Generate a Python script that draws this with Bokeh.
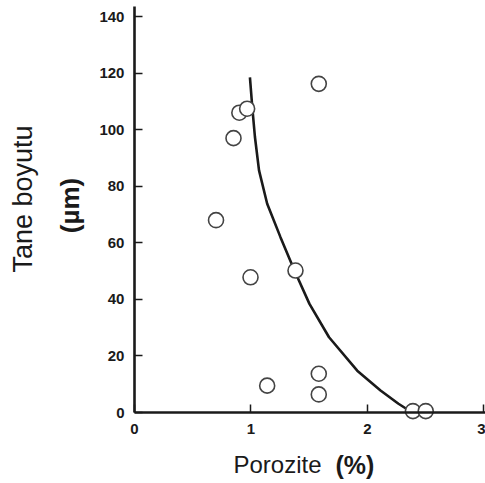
import math
from bokeh.plotting import figure
from bokeh.models import ColumnDataSource, Label
from bokeh.embed import file_html
from bokeh.resources import INLINE

# Measured samples: porosity (%) vs grain size (µm)
porosity = [0.70, 0.85, 0.90, 0.967, 1.582, 0.996, 1.382, 1.139, 1.582, 1.582, 2.39, 2.50]
grain_size = [68, 97, 106, 107.4, 116.2, 47.8, 50.2, 9.5, 13.7, 6.4, 0.5, 0.5]

# Trend curve traced through the data
curve_x = [0.991, 1.011, 1.034, 1.069, 1.139, 1.253, 1.373, 1.502, 1.670, 1.912, 2.112, 2.266, 2.384]
curve_y = [118.5, 108.0, 97.4, 85.6, 73.8, 62.0, 50.2, 38.4, 26.6, 14.8, 7.8, 3.1, 0.0]

x_ticks = [0, 1, 2, 3]
y_ticks = [0, 20, 40, 60, 80, 100, 120, 140]

FONT = "Liberation Sans"
INK = "#1a1a1a"

# The frame fills the whole canvas; both axes sit at the data origin.
p = figure(
    width=485, height=483,
    x_range=(-1.150, 3.013), y_range=(-25.1, 145.66),
    output_backend="svg", toolbar_location=None,
    min_border=0, min_border_left=0, min_border_right=0,
    min_border_top=0, min_border_bottom=0,
)
p.outline_line_color = None
p.xgrid.grid_line_color = None
p.ygrid.grid_line_color = None
p.background_fill_color = "white"
p.border_fill_color = "white"

for ax in (p.xaxis[0], p.yaxis[0]):
    ax.fixed_location = 0
    ax.axis_line_width = 2.6
    ax.axis_line_color = INK
    ax.major_tick_line_width = 1.5
    ax.major_tick_line_color = INK
    ax.major_tick_in = 8
    ax.major_tick_out = 0
    ax.minor_tick_line_color = None
    ax.major_label_text_font = FONT
    ax.major_label_text_font_style = "bold"
    ax.major_label_text_font_size = "15px"
    ax.major_label_text_color = INK

p.xaxis.ticker = x_ticks
p.yaxis.ticker = y_ticks
p.xaxis.bounds = (0, 3.013)
p.yaxis.bounds = (0, 143.5)
p.xaxis.major_label_standoff = 11
p.yaxis.major_label_standoff = 10

# Trend curve
p.line(curve_x, curve_y, line_width=2.6, line_color=INK)

# Open circle markers
src = ColumnDataSource(dict(x=porosity, y=grain_size))
p.scatter("x", "y", source=src, size=15, marker="circle",
          fill_color="white", line_color="#444444", line_width=1.6)

# Axis titles
p.add_layout(Label(x=0.85, y=-18.4, text="Porozite", text_font=FONT,
                   text_font_size="24px", text_color=INK,
                   text_align="left", text_baseline="middle"))
p.add_layout(Label(x=1.725, y=-18.4, text="(%)", text_font=FONT,
                   text_font_size="25px", text_font_style="bold", text_color=INK,
                   text_align="left", text_baseline="middle"))
p.add_layout(Label(x=-0.961, y=75.5, text="Tane boyutu", text_font=FONT,
                   text_font_size="27px", text_color=INK, angle=math.pi / 2,
                   text_align="center", text_baseline="middle"))
p.add_layout(Label(x=-0.555, y=73.2, text="(µm)", text_font=FONT,
                   text_font_size="26px", text_font_style="bold", text_color=INK,
                   angle=math.pi / 2, text_align="center", text_baseline="middle"))

open("out.html", "w").write(file_html(p, INLINE))
